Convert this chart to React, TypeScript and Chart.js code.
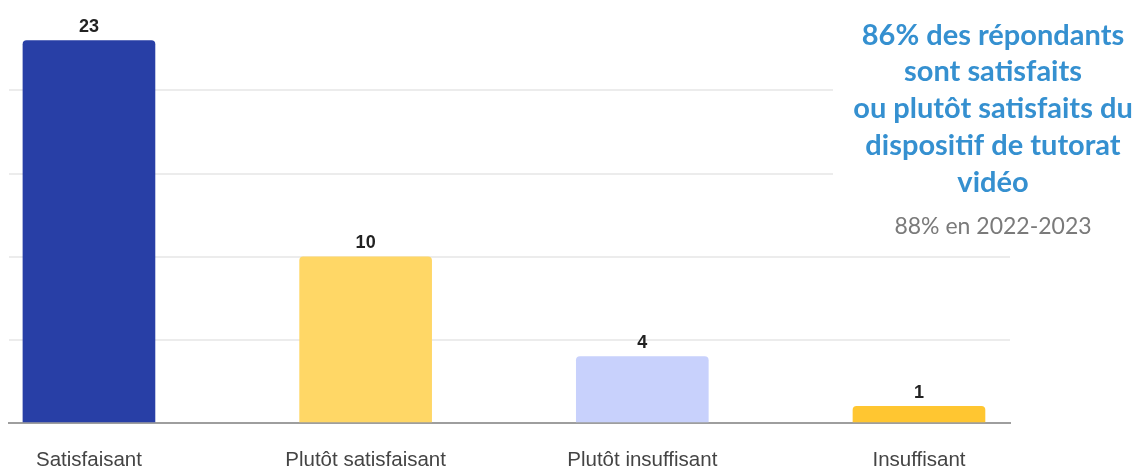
import React, { useEffect, useRef } from "react";
import { Chart, registerables } from "chart.js";

Chart.register(...registerables);

const categories = ["Satisfaisant", "Plutôt satisfaisant", "Plutôt insuffisant", "Insuffisant"];
const responses = [23, 10, 4, 1];
const barColors = ["#283fa6", "#ffd766", "#c8d1fc", "#ffc631"];
const headlineLines = [
  "86% des répondants",
  "sont satisfaits",
  "ou plutôt satisfaits du",
  "dispositif de tutorat",
  "vidéo",
];
const previousYearNote = "88% en 2022-2023";

const valueLabels = {
  id: "valueLabels",
  afterDatasetsDraw(chart: any) {
    const { ctx } = chart;
    const meta = chart.getDatasetMeta(0);
    ctx.save();
    ctx.font = "bold 18px 'Liberation Sans', Arial, sans-serif";
    ctx.fillStyle = "#222";
    ctx.textAlign = "center";
    ctx.textBaseline = "alphabetic";
    meta.data.forEach((el: any, i: number) => {
      ctx.fillText(String(responses[i]), el.x, el.y - 8.5);
    });
    ctx.restore();
  },
};

const sideNote = {
  id: "sideNote",
  afterDraw(chart: any) {
    const { ctx } = chart;
    ctx.save();
    ctx.fillStyle = "#ffffff";
    ctx.fillRect(833, 0, 1142 - 833, 245);
    ctx.textAlign = "center";
    ctx.textBaseline = "alphabetic";
    ctx.fillStyle = "#3590d0";
    ctx.font = "bold 29px Lato, 'Open Sans', sans-serif";
    headlineLines.forEach((line, i) => {
      ctx.fillText(line, 993, 44.5 + i * 36.8);
    });
    ctx.fillStyle = "#7a7a7a";
    ctx.font = "23px Lato, 'Open Sans', sans-serif";
    ctx.fillText(previousYearNote, 993, 234.3);
    ctx.restore();
  },
};

export default function App() {
  const ref = useRef<HTMLCanvasElement | null>(null);

  useEffect(() => {
    if (!ref.current) return;
    const chart = new Chart(ref.current, {
      type: "bar",
      data: {
        datasets: [
          {
            data: categories.map((_, i) => ({ x: i, y: responses[i] })),
            backgroundColor: barColors,
            borderWidth: 0,
            borderRadius: { topLeft: 4, topRight: 4, bottomLeft: 0, bottomRight: 0 },
            borderSkipped: "bottom",
            barThickness: 132,
          },
        ],
      },
      options: {
        responsive: false,
        animation: false,
        layout: { padding: { left: 9, right: 132, top: 24, bottom: 0 } },
        plugins: {
          legend: { display: false },
          tooltip: { enabled: false },
          title: { display: false },
        },
        scales: {
          x: {
            type: "linear",
            min: -0.289,
            max: 3.329,
            offset: false,
            grid: { display: false, drawTicks: false },
            border: { display: true, color: "#9e9e9e", width: 2 },
            afterBuildTicks: (axis: any) => {
              axis.ticks = categories.map((_, i) => ({ value: i }));
            },
            afterFit: (scale: any) => {
              scale.height = 45;
            },
            ticks: {
              stepSize: 1,
              autoSkip: false,
              maxRotation: 0,
              padding: 25,
              color: "#444",
              font: { family: "'Liberation Sans', Arial, sans-serif", size: 20.5 },
              callback: (v: any) => categories[v as number] ?? "",
            },
          },
          y: {
            min: 0,
            max: 24,
            ticks: { display: false, stepSize: 5 },
            border: { display: false },
            grid: {
              drawTicks: false,
              lineWidth: 2,
              color: (c: any) =>
                c.tick && c.tick.value > 0 && c.tick.value % 5 === 0 ? "#ececec" : "rgba(0,0,0,0)",
            },
            afterFit: (scale: any) => {
              scale.width = 0;
            },
          },
        },
      },
      plugins: [valueLabels, sideNote],
    });
    return () => chart.destroy();
  }, []);

  return (
    <div style={{ position: "fixed", left: 0, top: 0, width: 1142, height: 468, background: "#fff" }}>
      <canvas ref={ref} width={1142} height={468} style={{ display: "block" }} />
    </div>
  );
}
